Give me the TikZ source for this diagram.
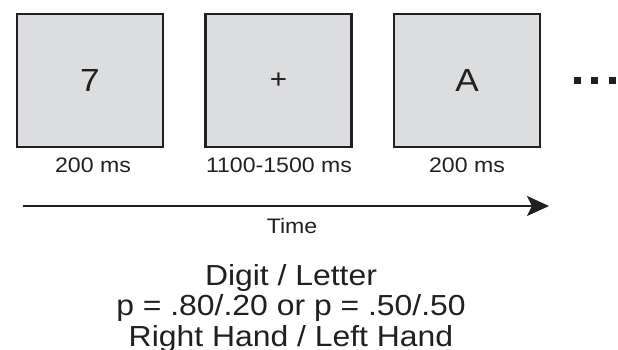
\documentclass[tikz,border=0pt]{standalone}
\usepackage{fontspec}
\setmainfont{Liberation Sans}[FakeStretch=1.1]
\usetikzlibrary{arrows.meta}
\usetikzlibrary{calc}
\usepackage{xcolor}

\definecolor{inkgray}{HTML}{231F20}
\definecolor{screengray}{HTML}{DCDDDE}

\tikzset{
  frame/.style={draw=inkgray, fill=screengray, line width=2.4pt,
    minimum width=146pt, minimum height=132.6pt, inner sep=0pt, text=inkgray},
  dur/.style={anchor=base, text=inkgray, inner sep=0pt,
    font=\fontsize{21}{21}\selectfont},
  cond/.style={anchor=base, text=inkgray, inner sep=0pt,
    font=\fontsize{29}{29}\selectfont},
  dot/.style={fill=inkgray, minimum size=7pt, inner sep=0pt}
}

\begin{document}
\begin{tikzpicture}[x=1pt,y=-1pt]

        \useasboundingbox (0,0) rectangle (618,349);

        % Frames
        \node[frame, font=\fontsize{32}{32}\selectfont] (digit) at (90,80.5) {7};
        \node[frame, font=\fontsize{27}{27}\selectfont] (fix) at (278.5,80.5) {+};
        \node[frame, font=\fontsize{32}{32}\selectfont] (letter) at (467,80.5) {A};

        % More trials
        \foreach \i/\x in {1/577,2/594.5,3/612}
        {
          \node[dot] (more\i) at (\x,80.5) {};
        }

        % Durations
        \node[dur] (durdigit) at (93,172) {200 ms};
        \node[dur] (durfix) at (279,172) {1100-1500 ms};
        \node[dur] (durletter) at (467,172) {200 ms};

        % Time axis
        \coordinate (tstart) at (23,206);
        \coordinate (tend) at (549,206);
        \draw[inkgray, line width=2pt, -{Stealth[length=22pt,width=20pt,inset=5pt]}] (tstart) -- (tend);
        \node[dur] (time) at (292,233) {Time};

        % Conditions
        \foreach \i/\y/\txt in {1/285/{Digit / Letter},
                                2/315/{p = .80/.20 or p = .50/.50},
                                3/346/{Right Hand / Left Hand}}
        {
          \node[cond] (cond\i) at (291,\y) {\txt};
        }

\end{tikzpicture}
\end{document}
